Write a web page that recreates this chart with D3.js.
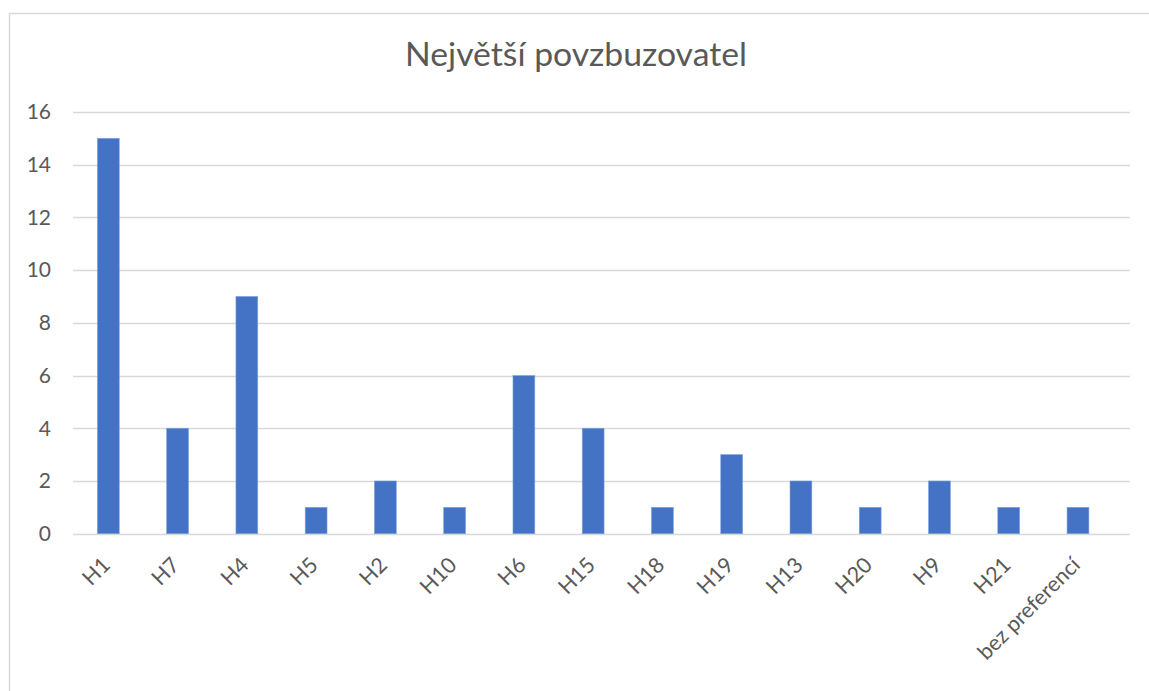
<!DOCTYPE html>
<html>
<head>
<meta charset="utf-8">
<script src="https://cdn.jsdelivr.net/npm/d3@7"></script>
<style>
  html, body { margin: 0; padding: 0; background: #fff; }
  svg { display: block; }
</style>
</head>
<body>
<svg id="chart" width="1149" height="691"></svg>
<script>
const title = "Největší povzbuzovatel";
const categories = ["H1", "H7", "H4", "H5", "H2", "H10", "H6", "H15", "H18", "H19", "H13", "H20", "H9", "H21", "bez preferencí"];
const values = [15, 4, 9, 1, 2, 1, 6, 4, 1, 3, 2, 1, 2, 1, 1];
const yTicks = [0, 2, 4, 6, 8, 10, 12, 14, 16];

const svg = d3.select("#chart");
const font = "Lato, 'Open Sans', sans-serif";
const textColor = "#595959";

// chart area border
svg.append("rect")
  .attr("x", 9.5).attr("y", 13.5)
  .attr("width", 1200).attr("height", 800)
  .attr("fill", "#fff")
  .attr("stroke", "#d9d9d9")
  .attr("stroke-width", 1.5);

const plot = { left: 73.7, right: 1112.6, gridRight: 1130, top: 112, bottom: 533.7 };

const x = d3.scaleBand()
  .domain(categories)
  .range([plot.left, plot.right])
  .paddingInner(0.685)
  .paddingOuter(0.3425);

const y = d3.scaleLinear().domain([0, 16]).range([plot.bottom, plot.top]);

// gridlines
svg.append("g")
  .selectAll("line")
  .data(yTicks)
  .join("line")
  .attr("x1", 73).attr("x2", plot.gridRight)
  .attr("y1", d => Math.round(y(d)) + 0.5)
  .attr("y2", d => Math.round(y(d)) + 0.5)
  .attr("stroke", "#d9d9d9")
  .attr("stroke-width", 1.5);

// y axis labels
svg.append("g")
  .selectAll("text")
  .data(yTicks)
  .join("text")
  .attr("x", 51)
  .attr("y", d => y(d))
  .attr("dy", "0.35em")
  .attr("text-anchor", "end")
  .attr("font-family", font)
  .attr("font-size", 21)
  .attr("fill", textColor)
  .text(d => d);

// bars
svg.append("g")
  .selectAll("rect")
  .data(values)
  .join("rect")
  .attr("x", (d, i) => x(categories[i]))
  .attr("y", d => y(d))
  .attr("width", x.bandwidth())
  .attr("height", d => y(0) - y(d))
  .attr("fill", "#4472C4")
  .attr("stroke", "#7aa0e0")
  .attr("stroke-width", 0.6);

// x labels
svg.append("g")
  .selectAll("text")
  .data(categories)
  .join("text")
  .attr("transform", d => `translate(${x(d) + x.bandwidth() / 2 - 2}, ${561}) rotate(-45)`)
  .attr("text-anchor", "end")
  .attr("dy", "0.35em")
  .attr("font-family", font)
  .attr("font-size", 21.5)
  .attr("fill", textColor)
  .text(d => d);

// title
const t = svg.append("text")
  .attr("x", 576)
  .attr("y", 66)
  .attr("text-anchor", "middle")
  .attr("font-family", font)
  .attr("font-size", 30)
  .attr("fill", textColor)
  .text(title);
const w = t.node().getComputedTextLength();
t.attr("font-size", 30 * 342 / w);
</script>
</body>
</html>
